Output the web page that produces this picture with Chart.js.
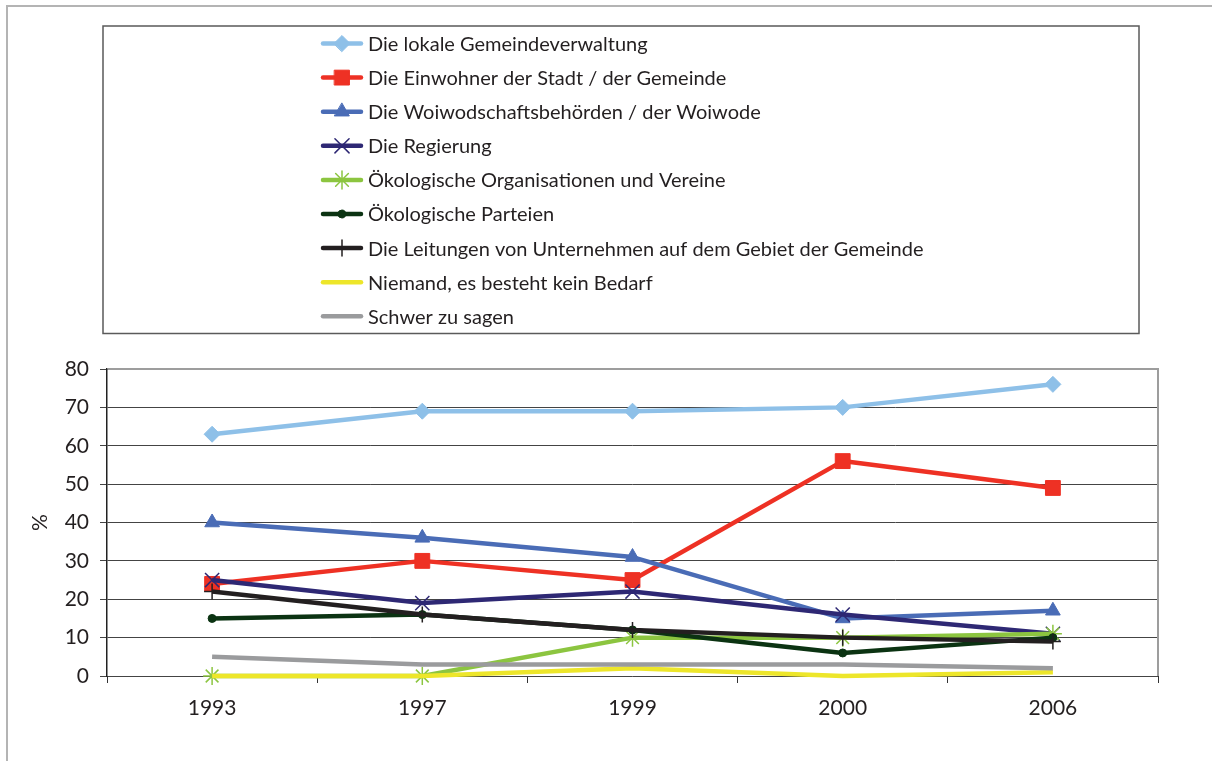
<!DOCTYPE html>
<html>
<head>
<meta charset="utf-8">
<script src="https://cdn.jsdelivr.net/npm/chart.js@4.4.0/dist/chart.umd.min.js"></script>
<style>
html,body{margin:0;padding:0;background:#fff}
</style>
</head>
<body>
<canvas id="myChart" width="1212" height="761"></canvas>
<script>
var years=['1993','1997','1999','2000','2006']
var gemeindeverwaltung=[63,69,69,70,76]
var einwohner=[24,30,25,56,49]
var woiwodschaft=[40,36,31,15,17]
var regierung=[25,19,22,16,11]
var oekoOrganisationen=[0,0,10,10,11]
var oekoParteien=[15,16,12,6,10]
var leitungen=[22,16,12,10,9]
var niemand=[0,0,2,0,1]
var schwer=[5,3,3,3,2]
var yTicks=[0,10,20,30,40,50,60,70,80]

var textColor='#231f20'
Chart.defaults.font.family='Lato'

function series(label,data,color,style,radius,bw){
    return {
        label:label,
        data:data,
        borderColor:color,
        backgroundColor:color,
        borderWidth:4.5,
        borderJoinStyle:'round',
        pointStyle:style,
        pointRadius:radius,
        pointHoverRadius:radius,
        pointBackgroundColor:color,
        pointBorderColor:color,
        pointBorderWidth:bw,
        tension:0,
        clip:false
    }
}

var datasets=[
    series('Die lokale Gemeindeverwaltung',gemeindeverwaltung,'#8ec0e8','rectRot',8,1),
    series('Die Einwohner der Stadt / der Gemeinde',einwohner,'#ee3124','rect',10.5,1),
    series('Die Woiwodschaftsbehörden / der Woiwode',woiwodschaft,'#4a6cb6','triangle',8.5,1),
    series('Die Regierung',regierung,'#2e2874','crossRot',10,1.5),
    series('Ökologische Organisationen und Vereine',oekoOrganisationen,'#8cc540','star',9,1.5),
    series('Ökologische Parteien',oekoParteien,'#0b3312','circle',4,1),
    series('Die Leitungen von Unternehmen auf dem Gebiet der Gemeinde',leitungen,'#231f20','cross',8,1.5),
    series('Niemand, es besteht kein Bedarf',niemand,'#ede62a',false,0,0),
    series('Schwer zu sagen',schwer,'#9a9b9d',false,0,0)
]
// excel draws later series on top
datasets.forEach(function(ds,i){ ds.order=datasets.length-i })

var frame={
    id:'frame',
    beforeDraw:function(chart){
        var ctx=chart.ctx
        ctx.save()
        ctx.strokeStyle='#b4b4b4'
        ctx.lineWidth=2
        ctx.beginPath()
        ctx.moveTo(7,761)
        ctx.lineTo(7,6)
        ctx.lineTo(1212,6)
        ctx.stroke()
        ctx.restore()
    },
    beforeDatasetsDraw:function(chart){
        var a=chart.chartArea
        var ctx=chart.ctx
        ctx.save()
        ctx.strokeStyle='#9d9d9d'
        ctx.lineWidth=2
        ctx.beginPath()
        ctx.moveTo(a.left+1,a.top)
        ctx.lineTo(a.right,a.top)
        ctx.lineTo(a.right,a.bottom)
        ctx.stroke()
        ctx.restore()
    }
}

var boxLegend={
    id:'boxLegend',
    afterDraw:function(chart){
        var ctx=chart.ctx
        ctx.save()
        ctx.strokeStyle='#5a5a5a'
        ctx.lineWidth=1.5
        ctx.strokeRect(103,26,1036,307.5)
        ctx.font='20px Lato'
        ctx.textBaseline='middle'
        chart.data.datasets.forEach(function(ds,i){
            var y=43.5+i*34.1
            ctx.strokeStyle=ds.borderColor
            ctx.lineWidth=4.5
            ctx.lineCap='round'
            ctx.beginPath()
            ctx.moveTo(323,y)
            ctx.lineTo(361,y)
            ctx.stroke()
            if(ds.pointRadius>0){
                ctx.fillStyle=ds.pointBackgroundColor
                ctx.strokeStyle=ds.pointBorderColor
                ctx.lineWidth=ds.pointBorderWidth
                Chart.helpers.drawPoint(ctx,{pointStyle:ds.pointStyle,radius:ds.pointRadius,borderWidth:ds.pointBorderWidth,rotation:0},342,y)
            }
            ctx.fillStyle=textColor
            ctx.fillText(ds.label,368,y+1)
        })
        ctx.restore()
    }
}

var ctx=document.getElementById('myChart')
var myChart=new Chart(ctx,{
    type:'line',
    data:{
        labels:years,
        datasets:datasets
    },
    options:{
        responsive:false,
        animation:false,
        layout:{padding:{top:369,right:54,bottom:0,left:0}},
        plugins:{
            legend:{display:false},
            tooltip:{enabled:false}
        },
        scales:{
            x:{
                offset:true,
                grid:{display:true,drawOnChartArea:false,drawTicks:true,tickLength:7,color:'#333',offset:true},
                border:{display:false},
                ticks:{font:{size:21},color:textColor,padding:13},
                afterFit:function(s){ s.height=85 }
            },
            y:{
                min:yTicks[0],
                max:yTicks[yTicks.length-1],
                ticks:{stepSize:yTicks[1]-yTicks[0],font:{size:21},color:textColor,padding:11},
                grid:{color:'#444',lineWidth:1,tickLength:7},
                border:{color:'#222',width:1.5},
                title:{display:true,text:'%',font:{size:21},color:textColor,padding:{top:28,bottom:0}},
                afterFit:function(s){ s.width=107 }
            }
        }
    },
    plugins:[frame,boxLegend]
})
</script>
</body>
</html>
